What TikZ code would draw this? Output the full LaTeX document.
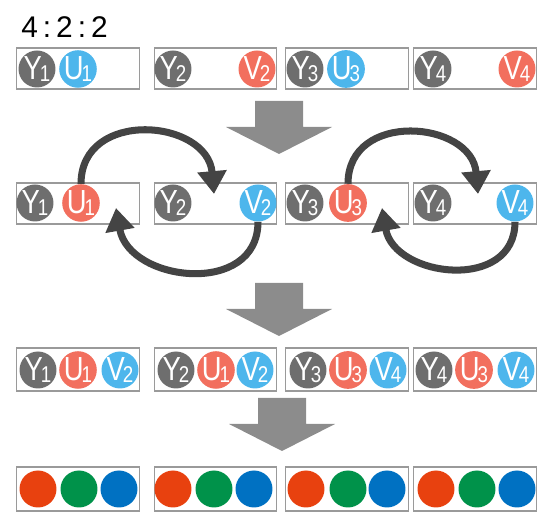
\documentclass[tikz,border=0pt]{standalone}
\usepackage{fontspec}
\setmainfont{Liberation Sans}
\usetikzlibrary{arrows.meta}

\definecolor{lumagray}{HTML}{6E6E6E}
\definecolor{chromared}{HTML}{F26F5E}
\definecolor{chromablue}{HTML}{4DB6EC}
\definecolor{pixred}{HTML}{E8410F}
\definecolor{pixgreen}{HTML}{00924A}
\definecolor{pixblue}{HTML}{0071C2}
\definecolor{framegray}{HTML}{9A9A9A}
\definecolor{bigarrow}{HTML}{8C8C8C}
\definecolor{swaparrow}{HTML}{444444}

% sample label: big letter, small index
\newcommand{\smp}[2]{\scalebox{0.82}[1]{{\fontsize{19}{19}\selectfont #1}\kern-1.5pt\raisebox{-1.2pt}{\fontsize{13}{13}\selectfont #2}}}

\begin{document}
\begin{tikzpicture}[x=0.02cm,y=-0.02cm,every node/.style={inner sep=0pt},
   frame/.style={draw=framegray,line width=0.6pt,minimum width=2.45cm,minimum height=0.82cm},
   dot/.style={circle,minimum size=0.74cm,text=white},
   gdot/.style={dot,fill=lumagray},
   rdot/.style={dot,fill=chromared},
   bdot/.style={dot,fill=chromablue},
   swap/.style={draw=swaparrow,line width=4pt,-{Triangle[length=13pt,width=16pt]}}]
  \useasboundingbox (0,0) rectangle (545,516);
  \node[anchor=west,font=\fontsize{17}{17}\selectfont] (ratio) at (21,27) {4\,:\,2\,:\,2};
  % frames
  \foreach \i/\x in {1/78,2/215.5,3/347,4/475} {
    \node[frame] (fa\i) at (\x,68.5) {};
    \node[frame] (fb\i) at (\x,203.5) {};
    \node[frame,minimum height=0.86cm] (fc\i) at (\x,369.5) {};
    \node[frame,minimum height=0.88cm] (fd\i) at (\x,489) {};
  }
  % subsampled 4:2:2
  \node[gdot] (y1a) at (37,69) {\smp{Y}{1}};
  \node[bdot] (u1a) at (78,69) {\smp{U}{1}};
  \node[gdot] (y2a) at (173,69) {\smp{Y}{2}};
  \node[rdot] (v2a) at (257,69) {\smp{V}{2}};
  \node[gdot] (y3a) at (305,69) {\smp{Y}{3}};
  \node[bdot] (u3a) at (346,69) {\smp{U}{3}};
  \node[gdot] (y4a) at (433,69) {\smp{Y}{4}};
  \node[rdot] (v4a) at (517,69) {\smp{V}{4}};
  % swap
  \node[gdot] (y1b) at (35,203) {\smp{Y}{1}};
  \node[rdot] (u1b) at (81,203) {\smp{U}{1}};
  \node[gdot] (y2b) at (173,203) {\smp{Y}{2}};
  \node[bdot] (v2b) at (258,203) {\smp{V}{2}};
  \node[gdot] (y3b) at (305,203) {\smp{Y}{3}};
  \node[rdot] (u3b) at (348,203) {\smp{U}{3}};
  \node[gdot] (y4b) at (433,203) {\smp{Y}{4}};
  \node[bdot] (v4b) at (515,203) {\smp{V}{4}};
  \coordinate (t12) at (214,194);
  \coordinate (t21) at (116,208);
  \coordinate (t34) at (478,194);
  \coordinate (t43) at (382,208);
  \draw[swap] (u1b.north) to[out=90,in=95,looseness=1.45] (t12);
  \draw[swap] (v2b.south) to[out=-90,in=-80,looseness=1.35] (t21);
  \draw[swap] (u3b.north) to[out=90,in=95,looseness=1.45] (t34);
  \draw[swap] (v4b.south) to[out=-90,in=-80,looseness=1.35] (t43);
  % upsampled 4:4:4
  \node[gdot] (y1c) at (38,370) {\smp{Y}{1}};
  \node[rdot] (u1c) at (78,370) {\smp{U}{1}};
  \node[bdot] (v2c) at (120,370) {\smp{V}{2}};
  \node[gdot] (y2c) at (176,370) {\smp{Y}{2}};
  \node[rdot] (u1d) at (216,370) {\smp{U}{1}};
  \node[bdot] (v2d) at (255,370) {\smp{V}{2}};
  \node[gdot] (y3c) at (308,370) {\smp{Y}{3}};
  \node[rdot] (u3c) at (348,370) {\smp{U}{3}};
  \node[bdot] (v4c) at (388,370) {\smp{V}{4}};
  \node[gdot] (y4c) at (434,370) {\smp{Y}{4}};
  \node[rdot] (u3d) at (474,370) {\smp{U}{3}};
  \node[bdot] (v4d) at (516,370) {\smp{V}{4}};
  % RGB
  \foreach \i/\a/\b/\c in {1/38/79/119,2/173/214/254,3/306/348/387,4/436/477/517} {
    \node[dot,fill=pixred] (r\i) at (\a,489) {};
    \node[dot,fill=pixgreen] (g\i) at (\b,489) {};
    \node[dot,fill=pixblue] (b\i) at (\c,489) {};
  }
  % big arrows
  \foreach \x/\y in {279/101,279/283,282/398} {
    \fill[bigarrow] (\x-24,\y) -- (\x+24,\y) -- (\x+24,\y+26) -- (\x+53,\y+26)
      -- (\x,\y+53) -- (\x-53,\y+26) -- (\x-24,\y+26) -- cycle;
  }
\end{tikzpicture}
\end{document}
